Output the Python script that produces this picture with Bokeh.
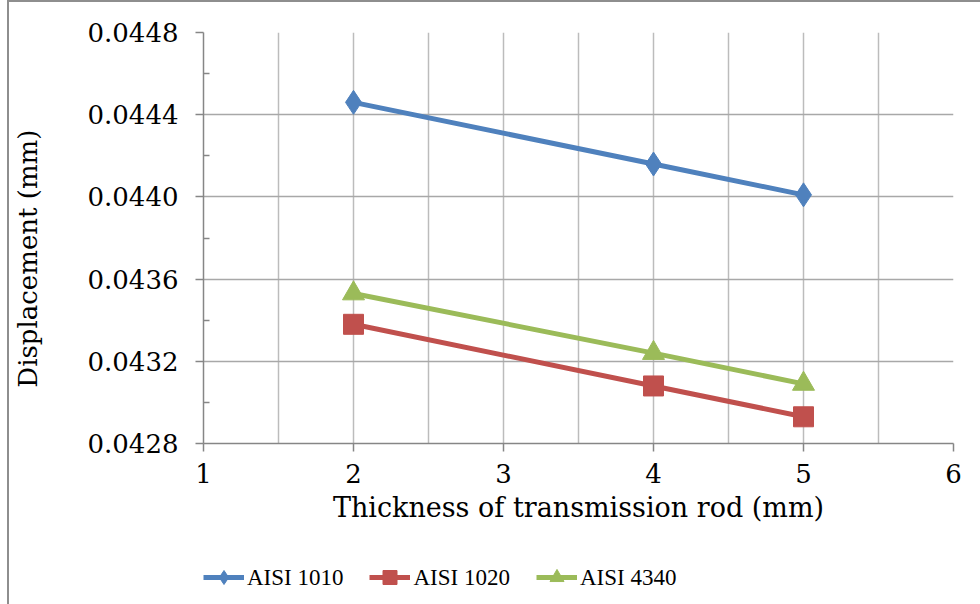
from bokeh.plotting import figure
from bokeh.layouts import column
from bokeh.models import (Range1d, FixedTicker, NumeralTickFormatter, Legend, LegendItem)
from bokeh.embed import file_html
from bokeh.resources import INLINE

# ---- data ----
thickness = [2, 4, 5]
aisi_1010 = [0.04446, 0.04416, 0.04401]
aisi_1020 = [0.04338, 0.04308, 0.04293]
aisi_4340 = [0.04353, 0.04324, 0.04309]
series_names = ["AISI 1010", "AISI 1020", "AISI 4340"]
x_ticks = [1, 2, 3, 4, 5, 6]
x_minor = [1.5, 2.5, 3.5, 4.5, 5.5]
y_ticks = [0.0428, 0.0432, 0.0436, 0.0440, 0.0444, 0.0448]
y_minor = [0.0430, 0.0434, 0.0438, 0.0442, 0.0446]

colors = ["#4f81bd", "#c0504d", "#9bbb59"]
markers = ["diamond", "square", "triangle"]
msizes = [24, 20, 22]

SERIF = "DejaVu Serif"

p = figure(width=971, height=532, output_backend="svg", toolbar_location=None,
           x_range=Range1d(1, 6), y_range=Range1d(0.0428, 0.0448),
           min_border_left=194, min_border_right=27, min_border_top=30,
           min_border_bottom=91)

p.outline_line_color = None
p.background_fill_color = "white"
p.border_fill_color = "white"

# axes
p.xaxis.ticker = FixedTicker(ticks=x_ticks, minor_ticks=x_minor)
p.yaxis.ticker = FixedTicker(ticks=y_ticks, minor_ticks=y_minor)
p.yaxis.formatter = NumeralTickFormatter(format="0.0000")
for ax in (p.xaxis[0], p.yaxis[0]):
    ax.axis_line_color = "#868686"
    ax.axis_line_width = 1.5
    ax.major_tick_line_color = "#868686"
    ax.major_tick_line_width = 1.5
    ax.major_tick_in = 0
    ax.major_tick_out = 8
    ax.major_label_text_font = SERIF
    ax.major_label_text_font_size = "26px"
    ax.major_label_text_color = "black"
    ax.axis_label_text_font = SERIF
    ax.axis_label_text_font_size = "26px"
    ax.axis_label_text_font_style = "normal"
    ax.axis_label_text_color = "black"
p.xaxis.axis_label_text_font_size = "27px"
p.xaxis.minor_tick_line_color = None
p.yaxis.minor_tick_line_color = "#868686"
p.yaxis.minor_tick_line_width = 1.5
p.yaxis.minor_tick_in = 6
p.yaxis.minor_tick_out = 0
p.xaxis.major_label_standoff = 12
p.yaxis.major_label_standoff = 17
p.xaxis.axis_label = "Thickness of transmission rod (mm)"
# trailing no-break spaces shift the centred vertical title downwards, as in the reference
p.yaxis.axis_label = "Displacement (mm)" + "\u00a0" * 5
p.xaxis.axis_label_standoff = 6
p.yaxis.axis_label_standoff = 42

# grids
p.xgrid.grid_line_color = "#bcbcbc"
p.xgrid.grid_line_width = 1.5
p.xgrid.minor_grid_line_color = "#bcbcbc"
p.xgrid.minor_grid_line_width = 1.5
p.ygrid.grid_line_color = "#a8a8a8"
p.ygrid.grid_line_width = 1.5

for ys, c, m, s in zip([aisi_1010, aisi_1020, aisi_4340], colors, markers, msizes):
    p.line(thickness, ys, line_color=c, line_width=5)
    p.scatter(thickness, ys, marker=m, size=s, fill_color=c, line_color=c)

# ---- legend strip (separate figure below the chart) ----
lf = figure(width=971, height=70, output_backend="svg", toolbar_location=None,
            x_range=Range1d(0, 1), y_range=Range1d(0, 1),
            min_border_left=135, min_border_right=0, min_border_top=16, min_border_bottom=0)
lf.axis.visible = False
lf.grid.visible = False
lf.outline_line_color = None
lf.border_fill_color = "white"
lf.background_fill_color = "white"

items = []
for name, c, m in zip(series_names, colors, markers):
    r1 = lf.line(x=[-10, -9], y=[-10, -9], line_color=c, line_width=5)
    r2 = lf.scatter(x=[-10], y=[-10], marker=m, size=14, fill_color=c, line_color=c)
    items.append(LegendItem(label=name, renderers=[r1, r2]))

legend = Legend(items=items, orientation="horizontal", location="center_left",
                label_text_font="Liberation Serif", label_text_font_size="23px",
                label_text_color="black", glyph_width=41, glyph_height=35,
                label_standoff=3, spacing=26, border_line_color=None,
                background_fill_alpha=0, padding=0, margin=0)
lf.add_layout(legend, "center")

layout = column(p, lf, spacing=0)
layout.margin = (0, 0, 0, 7)
layout.styles = {"border-left": "2px solid #8e8e8e", "border-top": "2px solid #8e8e8e"}

open("out.html", "w").write(file_html(layout, INLINE))
